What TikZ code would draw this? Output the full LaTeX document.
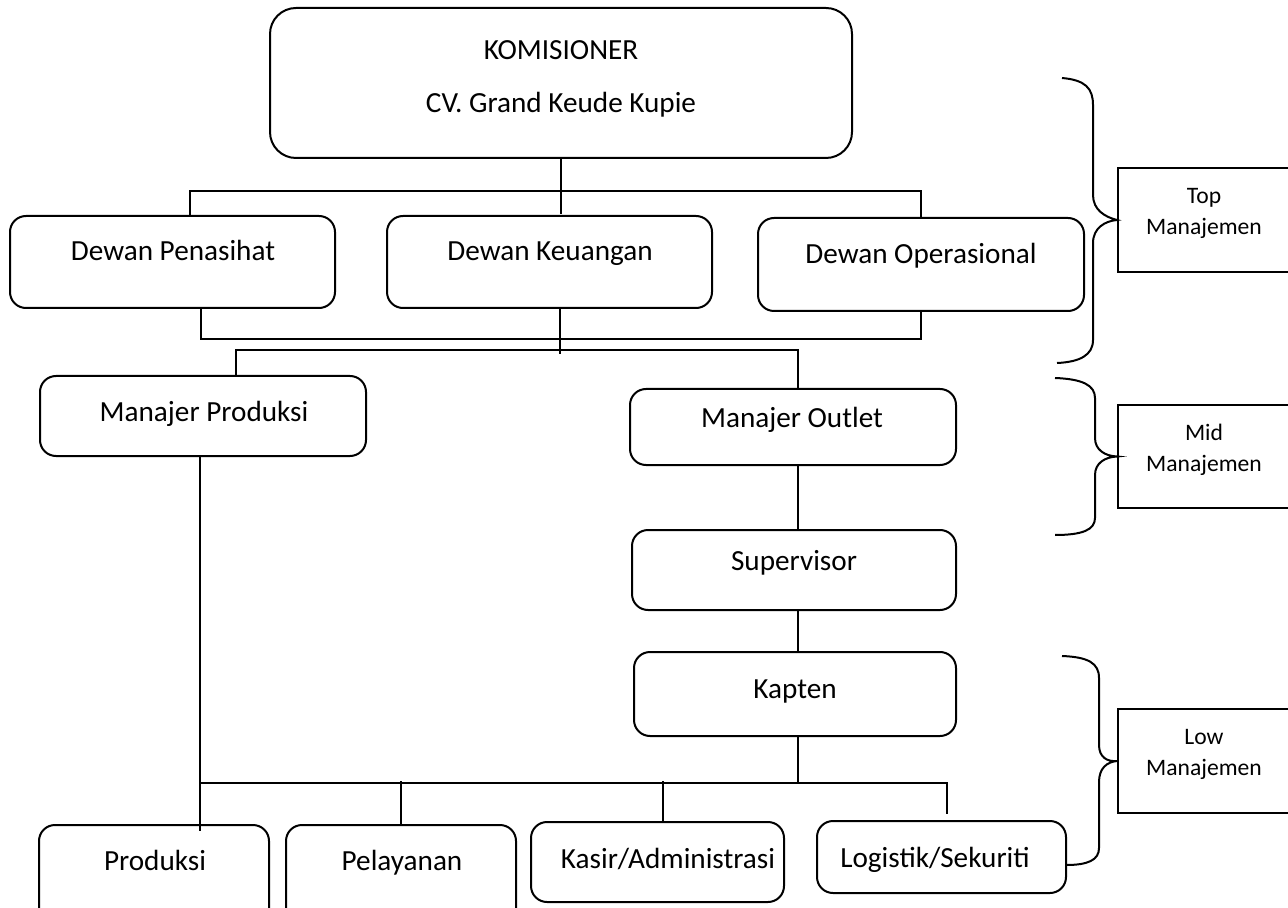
\documentclass[tikz,border=0pt]{standalone}
\usepackage{fontspec}
\setmainfont{Carlito}
\usetikzlibrary{calc,fit,positioning}

\begin{document}
\begin{tikzpicture}[x=0.5pt,y=-0.5pt,line width=1pt,
  box/.style={draw,rounded corners=8pt,inner sep=0pt},
  bigbox/.style={box,rounded corners=13pt},
  lvlbox/.style={draw,inner sep=0pt},
  txt/.style={inner sep=0pt,text height=1.6ex,text depth=0.45ex,font=\fontsize{14.6pt}{17pt}\selectfont},
  lvltxt/.style={inner sep=0pt,align=center,font=\fontsize{11.8pt}{15.5pt}\selectfont}]
\useasboundingbox (0,0) rectangle (1288,908);
\clip (0,0) rectangle (1288,908);
% boxes
\node[bigbox,fit={(270,8) (852,158)}] (komisioner) {};
\node[box,fit={(10,216) (335,308)}] (penasihat) {};
\node[box,fit={(387,216) (712,308)}] (keuangan) {};
\node[box,fit={(758,218) (1084,311)}] (operasional) {};
\node[box,fit={(40,376) (366,456)}] (mproduksi) {};
\node[box,fit={(630,389) (956,465)}] (moutlet) {};
\node[box,fit={(632,530) (956,610)}] (supervisor) {};
\node[box,fit={(634,652) (956,736)}] (kapten) {};
\node[box,fit={(39,825) (269,930)}] (produksi) {};
\node[box,fit={(286,825) (516,930)}] (pelayanan) {};
\node[box,fit={(531,822) (784,902)}] (kasir) {};
\node[box,fit={(817,821) (1066,893)}] (logistik) {};
% texts
\node[txt] at (561,54) {KOMISIONER};
\node[txt] at (561,107) {CV. Grand Keude Kupie};
\node[txt] at (173,255) {Dewan Penasihat};
\node[txt] at (550,255) {Dewan Keuangan};
\node[txt] at (921,258) {Dewan Operasional};
\node[txt] at (204,416) {Manajer Produksi};
\node[txt] at (792,422) {Manajer Outlet};
\node[txt] at (794,565) {Supervisor};
\node[txt] at (795,693) {Kapten};
\node[txt] at (155,865) {Produksi};
\node[txt] at (402,865) {Pelayanan};
\node[txt] at (668,863) {Kasir/Administrasi};
\node[txt] at (935,862) {Logistik/Sekuriti};
% levels
\node[lvlbox,fit={(1118,168) (1295,272)}] (top) {};
\node[lvlbox,fit={(1118,405) (1295,508)}] (mid) {};
\node[lvlbox,fit={(1118,709) (1295,813)}] (low) {};
\node[lvltxt] at (1204,213) {Top\\Manajemen};
\node[lvltxt] at (1204,450) {Mid\\Manajemen};
\node[lvltxt] at (1204,754) {Low\\Manajemen};
% connectors
\draw (komisioner.south) -- ++(0,55);
\draw ($(penasihat.north)+(17,0)$) -- ++(0,-24) -| (operasional.north);
\draw ($(penasihat.south)+(28,0)$) -- ++(0,30) -| (operasional.south);
\draw ($(keuangan.south)+(10,0)$) -- ++(0,45);
\draw ($(mproduksi.north)+(33,0)$) -- ++(0,-25) -| ($(moutlet.north)+(5,0)$);
\draw ($(moutlet.south)+(5,0)$) -- ($(supervisor.north)+(4,0)$);
\draw ($(supervisor.south)+(4,0)$) -- ($(kapten.north)+(3,0)$);
\draw ($(kapten.south)+(3,0)$) -- ++(0,46);
\draw ($(mproduksi.south)+(-3,0)$) -- ++(0,374);
\draw ($(mproduksi.south)+(-3,326)$) -| ($(logistik.north)+(5,-6)$);
\draw (pelayanan.north) -- ++(0,-43);
\draw ($(kasir.north)+(5,0)$) -- ++(0,-40);
% braces
\draw (1062,78) .. controls (1085,80) and (1093,88) .. (1093,105) -- (1093,195)
  .. controls (1093,210) and (1105,217) .. (top.west)
  .. controls (1105,221) and (1093,228) .. (1093,243) -- (1093,340)
  .. controls (1093,355) and (1080,362) .. (1057,363);
\draw (1055,378) .. controls (1082,379) and (1095,385) .. (1095,398) -- (1095,438)
  .. controls (1095,450) and (1105,456) .. (mid.west)
  .. controls (1105,457) and (1095,463) .. (1095,475) -- (1095,518)
  .. controls (1095,530) and (1082,535) .. (1055,535);
\draw (1062,656) .. controls (1088,657) and (1099,663) .. (1099,678) -- (1099,745)
  .. controls (1099,757) and (1107,762) .. (low.west)
  .. controls (1107,762) and (1099,768) .. (1099,782) -- (1099,848)
  .. controls (1099,860) and (1088,865) .. (1066,865);
\end{tikzpicture}
\end{document}
